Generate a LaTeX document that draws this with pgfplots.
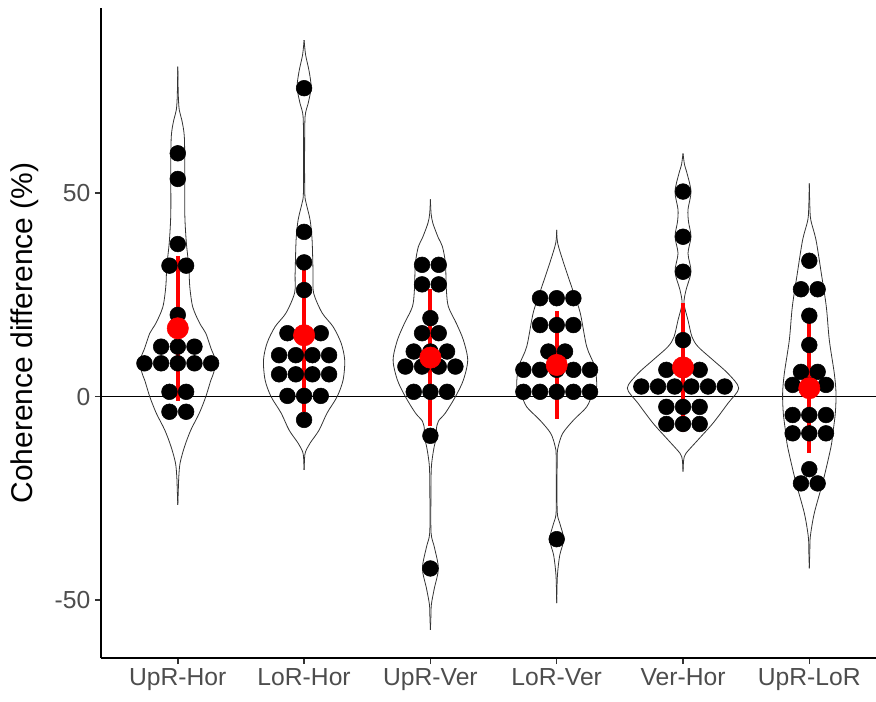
\documentclass[border=0pt]{standalone}
\usepackage{fontspec}
\setmainfont{Liberation Sans}
\usepackage{pgfplots}
\usepackage{pgfplotstable}
\pgfplotsset{compat=1.18}
\definecolor{tickgray}{HTML}{4D4D4D}
\definecolor{tickmark}{HTML}{333333}
\definecolor{vline}{HTML}{333333}

% violin outlines: y value, half-width in pixels (126.3 px = 1 category)
\pgfplotstableread{
y w
-26.6 0
-23 0.5
-19.7 1
-16.3 2.3
-12.3 6.7
-8.2 13
-4 21.6
0 28
4 33
6 36
9 37.5
12 33
15.6 28
18 22
22 15
27 12
32 11
38 8.5
45 7
56 7
64 6.5
68 4
70.4 1.5
74 0.5
81.1 0
}\vA
\pgfplotstableread{
y w
-18 0
-15 0.5
-13.5 1.5
-11.4 6
-8.2 15
-4 23
0 33
4.1 39
9 40.6
13.2 37
17.2 29
20.6 18
25.5 9.5
30 9
38.5 8
43.4 6
47.6 2
50 0.7
60 0.5
68.8 1
72 4
76 7
80 5
84 1.5
87.6 0
}\vB
\pgfplotstableread{
y w
-57.3 0
-54 0.5
-51 1
-47 4
-42.2 8
-37 4
-33.5 0.7
-25 0.5
-17.2 1
-12 4
-9.6 7
-8 6
-6 8
-4 15
0 25
4.1 33
9 37.3
13.9 33
18 26
22.1 18
26.2 16
32.8 15
36.9 12
39 8
42.6 2.5
45 0.7
48.5 0
}\vC
\pgfplotstableread{
y w
-50.7 0
-44 0.7
-39 3
-35 7
-31 3
-28 0.5
-15 0.5
-12.3 1.5
-9 6
-5.7 17
-2.5 30
0.8 36
2.5 40
7.4 38
12.3 30
20.6 23.5
26.2 16
32.8 7
37.7 1
41 0
}\vD
\pgfplotstableread{
y w
-18.4 0
-15.5 0.7
-13.9 3
-10.6 15
-6.5 30
-1.6 45
2.1 55.7
5.7 45
9 30
12.3 15
14.7 9
18.8 5
22.9 1
26.2 3
30.7 8
35.2 5
39.3 8
43 5.5
46 5
50.4 8
54.9 4
57 1.5
59.8 0
}\vE
\pgfplotstableread{
y w
-42.2 0
-38 0.5
-34.4 1
-28.6 5
-20.5 14
-12.3 21.7
-9 23.5
-4.1 26
0.8 26.7
5.7 25
13.9 20
22.1 17
30.3 12
38.5 6.7
43.4 1.5
47 0.5
52.4 0
}\vF

\begin{document}
\begin{tikzpicture}
\begin{axis}[
  scale only axis, width=581.25pt, height=487.5pt,
  xmin=0.392, xmax=6.528, ymin=-64.2, ymax=95.5,
  axis x line*=bottom, axis y line*=left,
  axis line style={line width=1.6pt, black},
  xtick={1,2,3,4,5,6},
  xticklabels={UpR-Hor,LoR-Hor,UpR-Ver,LoR-Ver,Ver-Hor,UpR-LoR},
  ytick={-50,0,50},
  tick align=outside, major tick length=4.5pt,
  tick style={line width=1.1pt, color=tickmark},
  ticklabel style={font=\fontsize{18.5}{20}\selectfont, text=tickgray},
  /pgf/number format/assume math mode=true,
  ylabel={Coherence difference (\%)},
  ylabel style={font=\fontsize{22.5}{24}\selectfont, at={(axis description cs:-0.0981,0.5)}, anchor=center},
  vio/.style={vline, line width=0.6pt, smooth, tension=0.5, mark=none},
]
\addplot[black, line width=0.8pt, mark=none] coordinates {(0.392,0) (6.528,0)};

\addplot[vio] table[x expr=1+\thisrow{w}/126.3, y=y] {\vA};
\addplot[vio] table[x expr=1-\thisrow{w}/126.3, y=y] {\vA};
\addplot[vio] table[x expr=2+\thisrow{w}/126.3, y=y] {\vB};
\addplot[vio] table[x expr=2-\thisrow{w}/126.3, y=y] {\vB};
\addplot[vio] table[x expr=3+\thisrow{w}/126.3, y=y] {\vC};
\addplot[vio] table[x expr=3-\thisrow{w}/126.3, y=y] {\vC};
\addplot[vio] table[x expr=4+\thisrow{w}/126.3, y=y] {\vD};
\addplot[vio] table[x expr=4-\thisrow{w}/126.3, y=y] {\vD};
\addplot[vio] table[x expr=5+\thisrow{w}/126.3, y=y] {\vE};
\addplot[vio] table[x expr=5-\thisrow{w}/126.3, y=y] {\vE};
\addplot[vio] table[x expr=6+\thisrow{w}/126.3, y=y] {\vF};
\addplot[vio] table[x expr=6-\thisrow{w}/126.3, y=y] {\vF};

\addplot[only marks, mark=*, mark size=5.9pt, black, mark options={draw=black, fill=black}] coordinates {
(1,59.8) (1,53.5) (1,37.5) (0.934,32.2) (1.066,32.2) (1,20.1)
(0.868,12.3) (1,12.3) (1.132,12.3)
(0.736,8.2) (0.868,8.2) (1,8.2) (1.132,8.2) (1.264,8.2)
(0.934,1.2) (1.066,1.2) (0.934,-3.7) (1.066,-3.7)
(2,75.8) (2,40.5) (2,33.0) (2,26.2)
(1.868,15.6) (2,15.6) (2.132,15.6)
(1.802,10.2) (1.934,10.2) (2.066,10.2) (2.198,10.2)
(1.802,5.5) (1.934,5.5) (2.066,5.5) (2.198,5.5)
(1.868,0.2) (2,0.2) (2.132,0.2) (2,-5.7)
(2.934,32.4) (3.066,32.4) (2.934,27.6) (3.066,27.6) (3,19.3)
(2.934,15.6) (3.066,15.6)
(2.868,11.1) (3,11.1) (3.132,11.1)
(2.802,7.4) (2.934,7.4) (3.066,7.4) (3.198,7.4)
(2.868,1.2) (3,1.2) (3.132,1.2) (3,-9.6) (3,-42.2)
(3.868,24.2) (4,24.2) (4.132,24.2)
(3.868,17.6) (4,17.6) (4.132,17.6)
(3.934,11.1) (4.066,11.1)
(3.736,6.6) (3.868,6.6) (4,6.6) (4.132,6.6) (4.264,6.6)
(3.736,1.2) (3.868,1.2) (4,1.2) (4.132,1.2) (4.264,1.2) (4,-35.0)
(5,50.4) (5,39.3) (5,30.7) (5,13.9)
(4.868,6.6) (5,6.6) (5.132,6.6)
(4.670,2.5) (4.802,2.5) (4.934,2.5) (5.066,2.5) (5.198,2.5) (5.330,2.5)
(4.868,-2.5) (5,-2.5) (5.132,-2.5)
(4.868,-6.7) (5,-6.7) (5.132,-6.7)
(6,33.4) (5.934,26.4) (6.066,26.4) (6,19.9) (6,12.7)
(5.934,6.1) (6.066,6.1)
(5.868,2.9) (6,2.9) (6.132,2.9)
(5.868,-4.5) (6,-4.5) (6.132,-4.5)
(5.868,-9.0) (6,-9.0) (6.132,-9.0)
(6,-17.8) (5.934,-21.3) (6.066,-21.3)
};

\addplot[only marks, mark=*, mark size=8pt, red, mark options={draw=red, fill=red},
  error bars/.cd, y dir=both, y explicit, error mark=none,
  error bar style={line width=3pt, red}] coordinates {
(1,16.8) +- (0,17.8)
(2,15.1) +- (0,18.8)
(3,9.6) +- (0,16.8)
(4,7.8) +- (0,13.25)
(5,7.2) +- (0,15.75)
(6,2.1) +- (0,15.95)
};
\end{axis}
\pgfresetboundingbox
\path[use as bounding box] ([shift={(-75.75pt,-32.25pt)}]current axis.south west) rectangle ([shift={(0pt,6pt)}]current axis.north east);
\end{tikzpicture}
\end{document}
